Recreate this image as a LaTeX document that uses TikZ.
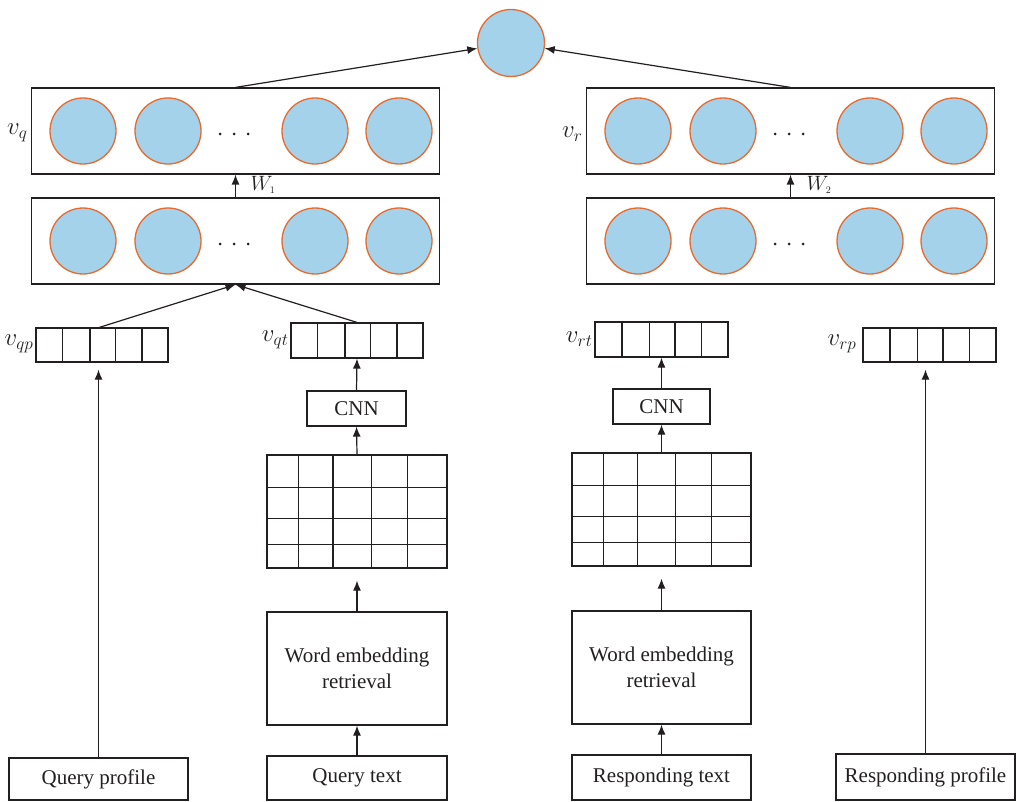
\documentclass[tikz,border=0pt]{standalone}
\usepackage{fontspec}
\setmainfont{Liberation Serif}
\usetikzlibrary{arrows.meta,calc}
\definecolor{nfill}{RGB}{164,210,235}
\definecolor{nedge}{RGB}{232,106,44}
\definecolor{ink}{RGB}{35,31,32}
\begin{document}
\begin{tikzpicture}[x=1pt,y=-1pt,line width=1.2pt,draw=ink,text=ink,
  box/.style={draw=ink,rectangle,inner sep=0pt,align=center,font=\fontsize{21}{25}\selectfont},
  layer/.style={box,minimum width=408pt,minimum height=86pt},
  neuron/.style={circle,draw=nedge,fill=nfill,line width=1.3pt,inner sep=0pt,minimum size=66pt},
  vec/.style={box,minimum width=132pt,minimum height=34pt},
  grid/.style={box,minimum width=180pt,minimum height=113pt},
  lbl/.style={inner sep=0pt,anchor=east,font=\fontsize{24}{26}\selectfont},
  wlbl/.style={inner sep=0pt,anchor=west,font=\fontsize{20}{22}\selectfont},
  arr/.style={-{Latex[length=10pt,width=8pt]},line width=1.2pt,draw=ink}]
\useasboundingbox (0,0) rectangle (1016,802);

% top output neuron
\node[neuron,minimum size=67pt] (top) at (511,43) {};

% layers
\node[layer] (L1) at (235.5,131) {};
\node[layer] (L2) at (235.5,241) {};
\node[layer] (R1) at (790.5,131) {};
\node[layer] (R2) at (790.5,241) {};

% neurons
\foreach \lay/\dx in {L/0,R/555}{
  \foreach \cy/\n in {131/1,241/2}{
    \foreach \cx/\k in {83/a,168/b,315/c,399/d}{
      \node[neuron] (n\lay\n\k) at (\cx+\dx,\cy) {};
    }
    \foreach \cx in {220,234,248}{
      \fill[ink] (\cx+\dx,\cy+3) circle (1.5pt);
    }
  }
}

% labels
\node[lbl] (lvq) at (28,133) {$v_q$};
\node[lbl] (lvr) at (583,134) {$v_r$};
\node[wlbl] (lw1) at (250,185) {$W_{\scriptscriptstyle 1}$};
\node[wlbl] (lw2) at (806,185) {$W_{\scriptscriptstyle 2}$};

% vectors
\node[vec] (vqp) at (102,345) {};
\node[vec,minimum height=35pt] (vqt) at (357,340.5) {};
\node[vec,minimum width=133pt,minimum height=35pt] (vrt) at (661.5,339.5) {};
\node[vec,minimum width=133pt] (vrp) at (929.5,345) {};
\foreach \v in {vqp,vqt,vrt,vrp}{
  \foreach \f in {0.205,0.41,0.6,0.8}{
    \draw ($(\v.north west)!\f!(\v.north east)$) -- ($(\v.south west)!\f!(\v.south east)$);
  }
}
\node[lbl] (lvqp) at (34,344) {$v_{qp}$};
\node[lbl] (lvqt) at (289,340) {$v_{qt}$};
\node[lbl] (lvrt) at (593,339) {$v_{rt}$};
\node[lbl] (lvrp) at (857,344) {$v_{rp}$};

% CNN
\node[box,minimum width=99pt,minimum height=35pt] (cnn1) at (356.5,408.5) {CNN};
\node[box,minimum width=97pt,minimum height=35pt] (cnn2) at (661.5,406.5) {CNN};

% grids
\node[grid] (g1) at (357,511.5) {};
\node[grid,minimum width=179pt] (g2) at (661.5,509.5) {};
\foreach \g in {g1,g2}{
  \foreach \f in {0.178,0.367,0.578,0.778}{
    \draw ($(\g.north west)!\f!(\g.north east)$) -- ($(\g.south west)!\f!(\g.south east)$);
  }
  \foreach \f in {0.292,0.558,0.788}{
    \draw ($(\g.north west)!\f!(\g.south west)$) -- ($(\g.north east)!\f!(\g.south east)$);
  }
}

% word embedding boxes
\node[grid] (we1) at (357,668.5) {Word embedding\\[1pt]retrieval};
\node[grid,minimum width=179pt] (we2) at (661.5,667.5) {Word embedding\\[1pt]retrieval};

% inputs
\node[box,minimum width=179pt,minimum height=42pt] (qp) at (98.5,779) {Query profile};
\node[box,minimum width=180pt,minimum height=44pt] (qt) at (357,778) {Query text};
\node[box,minimum width=179pt,minimum height=45pt] (rt) at (661.5,777.5) {Responding text};
\node[box,minimum width=179pt,minimum height=46pt] (rp) at (925.5,777) {Responding profile};

% connectors
\draw[arr] (L1.north) -- (top);
\draw[arr] (R1.north) -- (top);
\draw[arr] (L2.north) -- (L1.south);
\draw[arr] (R2.north) -- (R1.south);
\draw[arr] ($(vqp.north west)!0.48!(vqp.north east)$) -- (L2.south);
\draw[arr] (vqt.north) -- (L2.south);
\draw[arr,shorten >=7pt] (qp.north) -- (qp.north |- vqp.south);
\draw[arr,shorten >=7pt] (rp.north) -- (rp.north |- vrp.south);
\draw[arr] (cnn1.north) -- (vqt.south);
\draw[arr] (cnn2.north) -- (vrt.south);
\draw[arr] (g1.north) -- (cnn1.south);
\draw[arr] (g2.north) -- (cnn2.south);
\draw[arr,shorten >=12pt] (we1.north) -- (g1.south);
\draw[arr,shorten >=12pt] (we2.north) -- (g2.south);
\draw[arr] (qt.north) -- (we1.south);
\draw[arr] (rt.north) -- (we2.south);
\end{tikzpicture}
\end{document}
